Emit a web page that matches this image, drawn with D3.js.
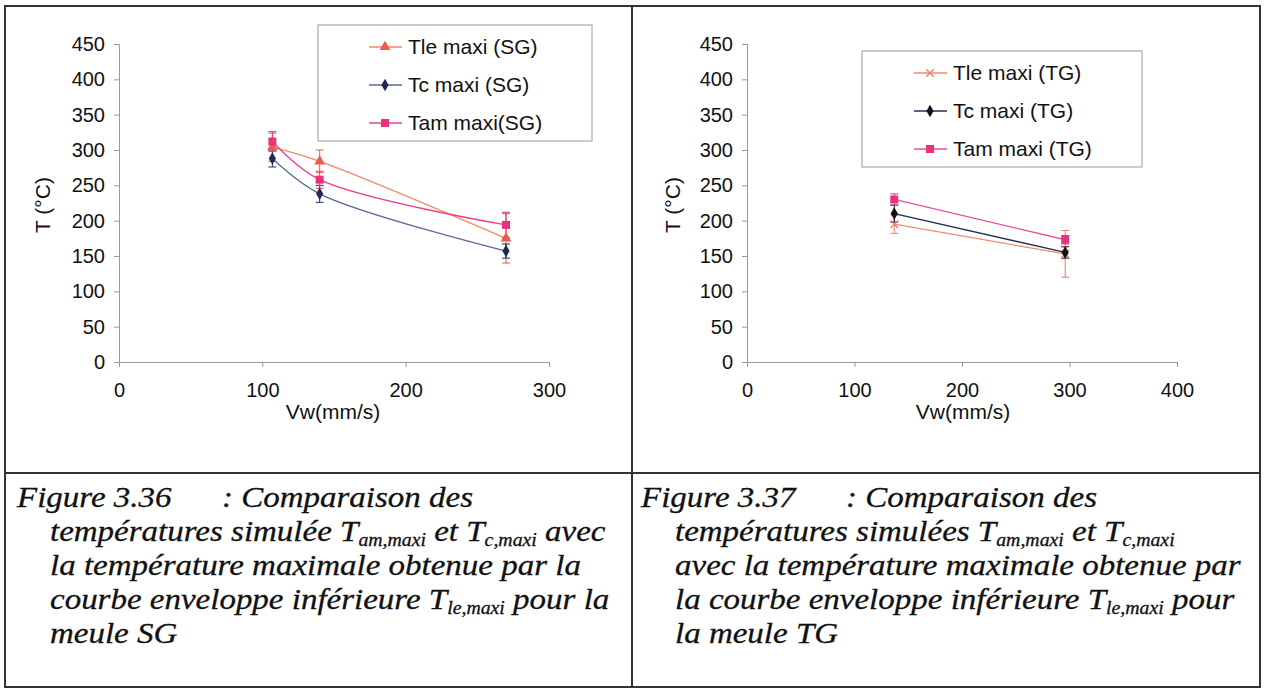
<!DOCTYPE html>
<html><head><meta charset="utf-8">
<script src="https://cdn.jsdelivr.net/npm/d3@7/dist/d3.min.js"></script>
<style>
body{margin:0;background:#fff;}
svg{display:block;}
</style></head>
<body><svg id="c" width="1264" height="690"></svg>
<script>
// ---------- data ----------
const yTicks = [0,50,100,150,200,250,300,350,400,450];
const xTicksSG = [0,100,200,300];
const xTicksTG = [0,100,200,300,400];

const vwSG = [107,140,270];
const tleSG = [304,284,175];
const tleSGErr = [20,16,35];
const tcSG = [288,238,157];
const tcSGErr = [12,12,10];
const tamSG = [312,258,194];
const tamSGErr = [14,12,18];

const vwTG = [137,296];
const tleTG = [195,153];
const tleTGErr = [13,33];
const tcTG = [210,155];
const tcTGErr = [12,8];
const tamTG = [230,173];
const tamTGErr = [8,6];

const legendSG = ["Tle maxi (SG)","Tc maxi (SG)","Tam maxi(SG)"];
const legendTG = ["Tle maxi (TG)","Tc maxi (TG)","Tam maxi (TG)"];

const SANS = "Liberation Sans, Arial, sans-serif";
const svg = d3.select("#c");

// frame
const frame = svg.append("g").attr("stroke","#333").attr("stroke-width",2).attr("fill","none");
frame.append("rect").attr("x",5).attr("y",6).attr("width",1255).attr("height",681);
frame.append("line").attr("x1",632).attr("x2",632).attr("y1",6).attr("y2",687);
frame.append("line").attr("x1",5).attr("x2",1260).attr("y1",473).attr("y2",473);

function chart(cfg){
  const g = svg.append("g");
  const x = d3.scaleLinear().domain(cfg.xDomain).range(cfg.xRange);
  const y = d3.scaleLinear().domain([0,450]).range([362,44]);
  const ya = g.append("g").attr("transform",`translate(${cfg.xRange[0]},0)`)
    .call(d3.axisLeft(y).tickValues(yTicks).tickSize(5).tickPadding(9));
  const xa = g.append("g").attr("transform",`translate(0,362)`)
    .call(d3.axisBottom(x).tickValues(cfg.xTicks).tickSize(5).tickPadding(16));
  [ya,xa].forEach(a=>{
    a.selectAll("path,line").attr("stroke","#999");
    a.selectAll("text").attr("font-family",SANS).attr("font-size",20).attr("fill","#111");
  });
  g.append("text").attr("x",(cfg.xRange[0]+cfg.xRange[1])/2 - cfg.labelShift).attr("y",419)
    .attr("text-anchor","middle").attr("font-family",SANS).attr("font-size",21).attr("fill","#111").text("Vw(mm/s)");
  g.append("text").attr("transform",`translate(${cfg.yLabelX},205) rotate(-90)`)
    .attr("text-anchor","middle").attr("font-family",SANS).attr("font-size",21).attr("fill","#111").text("T (°C)");

  const line = d3.line().x((d,i)=>x(cfg.vw[i])).y(d=>y(d)).curve(d3.curveCatmullRom.alpha(0.5));
  cfg.series.forEach(s=>{
    s.vals.forEach((v,i)=>{
      const cx = x(cfg.vw[i]);
      const e = s.err[i];
      g.append("line").attr("x1",cx).attr("x2",cx).attr("y1",y(v-e)).attr("y2",y(v+e)).attr("stroke",s.color).attr("stroke-width",1);
      [v-e,v+e].forEach(t=>g.append("line").attr("x1",cx-4).attr("x2",cx+4).attr("y1",y(t)).attr("y2",y(t)).attr("stroke",s.color).attr("stroke-width",1));
    });
    g.append("path").datum(s.vals).attr("d",line).attr("fill","none").attr("stroke",s.lineColor||s.color).attr("stroke-width",1.3);
  });
  cfg.series.forEach(s=>{
    s.vals.forEach((v,i)=>drawMarker(g,s.marker,x(cfg.vw[i]),y(v),s.color));
  });
  const L = cfg.legend;
  g.append("rect").attr("x",L.x).attr("y",L.y).attr("width",L.w).attr("height",L.h).attr("fill","#fff").attr("stroke","#aaa").attr("stroke-width",1.2);
  cfg.series.forEach((s,i)=>{
    const ly = L.rows[i];
    g.append("line").attr("x1",L.lx).attr("x2",L.lx+33).attr("y1",ly).attr("y2",ly).attr("stroke",s.lineColor||s.color).attr("stroke-width",1.3);
    drawMarker(g,s.marker,L.lx+16,ly,s.color);
    g.append("text").attr("x",L.lx+39).attr("y",ly).attr("dy","0.35em").attr("font-family",SANS).attr("font-size",21).attr("fill","#111").text(cfg.names[i]);
  });
}

function drawMarker(g,type,cx,cy,color){
  if(type==="triangle"){
    g.append("path").attr("d",d3.symbol(d3.symbolTriangle,50)()).attr("transform",`translate(${cx},${cy})`).attr("fill",color);
  } else if(type==="diamond"){
    g.append("path").attr("d",d3.symbol(d3.symbolDiamond,45)()).attr("transform",`translate(${cx},${cy})`).attr("fill",color);
  } else if(type==="square"){
    g.append("path").attr("d",d3.symbol(d3.symbolSquare,64)()).attr("transform",`translate(${cx},${cy})`).attr("fill",color);
  } else if(type==="x"){
    g.append("path").attr("d",d3.symbol(d3.symbolX,40)()).attr("transform",`translate(${cx},${cy})`).attr("fill","none").attr("stroke",color).attr("stroke-width",1.3);
  }
}

chart({
  xDomain:[0,300], xRange:[119,549], xTicks:xTicksSG, vw:vwSG, labelShift:1, yLabelX:50,
  names:legendSG,
  series:[
    {vals:tleSG, err:tleSGErr, color:"#f2584f", lineColor:"#f08a60", marker:"triangle"},
    {vals:tcSG, err:tcSGErr, color:"#1e2a52", lineColor:"#5b6a9a", marker:"diamond"},
    {vals:tamSG, err:tamSGErr, color:"#e8337c", lineColor:"#ec3f8f", marker:"square"}
  ],
  legend:{x:318,y:25,w:274,h:116,lx:369,rows:[47,85,123]}
});
chart({
  xDomain:[0,400], xRange:[747,1177], xTicks:xTicksTG, vw:vwTG, labelShift:-1, yLabelX:680,
  names:legendTG,
  series:[
    {vals:tleTG, err:tleTGErr, color:"#f07a6a", lineColor:"#f08a70", marker:"x"},
    {vals:tcTG, err:tcTGErr, color:"#111", lineColor:"#1f3050", marker:"diamond"},
    {vals:tamTG, err:tamTGErr, color:"#e8337c", lineColor:"#ee4d98", marker:"square"}
  ],
  legend:{x:862,y:51,w:280,h:116,lx:914,rows:[73,111,149]}
});

// captions
const SX = 1.10;
function caption(x0,x1,colonX,lines){
  const t = svg.append("g").attr("font-family","Liberation Serif, Times New Roman, serif").attr("font-style","italic").attr("font-size",30).attr("fill","#111").attr("stroke","#111").attr("stroke-width",0.3);
  lines.forEach((ln,i)=>{
    const bx = i===0?x0:x1;
    const txt = t.append("text").attr("transform",`translate(${bx},${507+i*34}) scale(${SX},1)`).attr("x",0).attr("y",0);
    ln.forEach(p=>{
      const ts = txt.append("tspan").text(p.t);
      if(p.colon) ts.attr("x",(colonX-bx)/SX);
      if(p.sub){ts.attr("font-size",18).attr("dy",5);}
      else if(p.after){ts.attr("dy",-5);}
    });
  });
}
caption(17,50,222,[
  [{t:"Figure 3.36"},{t:": Comparaison des",colon:true}],
  [{t:"températures simulée T"},{t:"am,maxi",sub:true},{t:" et T",after:true},{t:"c,maxi",sub:true},{t:" avec",after:true}],
  [{t:"la température maximale obtenue par la"}],
  [{t:"courbe enveloppe inférieure T"},{t:"le,maxi",sub:true},{t:" pour la",after:true}],
  [{t:"meule SG"}]
]);
caption(641,675,846,[
  [{t:"Figure 3.37"},{t:": Comparaison des",colon:true}],
  [{t:"températures simulées T"},{t:"am,maxi",sub:true},{t:" et T",after:true},{t:"c,maxi",sub:true}],
  [{t:"avec la température maximale obtenue par"}],
  [{t:"la courbe enveloppe inférieure T"},{t:"le,maxi",sub:true},{t:" pour",after:true}],
  [{t:"la meule TG"}]
]);
</script></body></html>
